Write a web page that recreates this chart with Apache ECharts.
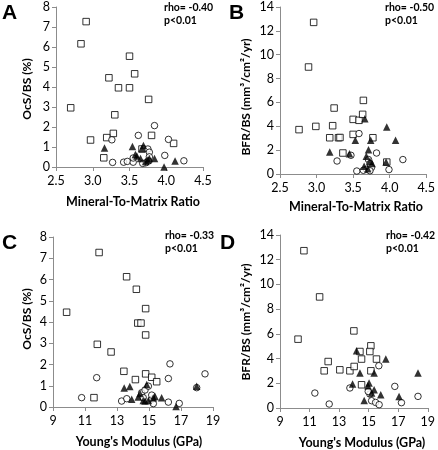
<!DOCTYPE html>
<html><head><meta charset="utf-8">
<script src="https://cdn.jsdelivr.net/npm/echarts@6/dist/echarts.min.js"></script>
<style>html,body{margin:0;padding:0;background:#fff}#c{width:438px;height:450px}</style>
</head><body><div id="c"></div>
<script>
// Panel A: Mineral-To-Matrix Ratio vs OcS/BS (%)
var aSquares = [[2.91,7.27],[2.84,6.16],[2.70,2.96],[3.50,5.54],[3.57,4.66],[3.22,4.46],[3.35,3.96],[3.50,3.96],[3.76,3.38],[3.30,2.61],[3.28,1.68],[2.97,1.35],[3.19,1.47],[3.80,1.58],[4.10,1.18],[3.15,0.46],[3.67,0.90]];
var aCircles = [[3.84,2.07],[3.62,1.58],[4.03,1.38],[3.26,1.36],[3.75,0.90],[3.77,0.74],[3.98,0.58],[4.24,0.31],[3.27,0.23],[3.42,0.24],[3.47,0.28],[3.55,0.24],[3.55,0.45],[3.77,0.51],[3.76,0.30],[3.72,0.21],[3.68,0.18]];
var aTriangles = [[3.16,0.95],[3.54,1.03],[3.69,1.07],[3.67,0.93],[3.58,0.63],[3.60,0.55],[3.65,0.43],[3.77,0.43],[3.84,0.43],[3.72,0.27],[4.12,0.30],[3.97,0.0],[3.75,0.35]];
// Panel B: Mineral-To-Matrix Ratio vs BFR/BS
var bSquares = [[2.96,12.71],[2.89,8.97],[2.76,3.72],[2.99,3.99],[3.22,4.05],[3.24,5.53],[3.18,3.04],[3.30,3.04],[3.32,3.06],[3.50,4.58],[3.58,4.50],[3.64,6.17],[3.63,5.0],[3.50,3.32],[3.77,3.04],[3.36,1.76],[3.96,1.0]];
var bCircles = [[3.58,3.39],[3.28,1.09],[3.47,1.57],[3.82,1.76],[4.18,1.21],[3.55,0.25],[3.99,0.37],[3.71,1.21],[3.73,0.87],[3.75,0.54],[3.68,0.39],[3.64,0.31],[3.73,0.27]];
var bTriangles = [[3.66,4.64],[3.96,3.94],[4.08,2.82],[3.53,2.82],[3.74,2.82],[3.18,1.84],[3.45,1.70],[3.71,2.04],[3.68,1.48],[3.73,1.06],[3.76,0.87],[3.65,0.64],[3.95,1.0],[3.70,0.45]];
// Panel C: Young's Modulus vs OcS/BS (%)
var cSquares = [[11.88,7.27],[13.6,6.13],[9.85,4.46],[14.21,5.54],[14.79,4.63],[14.3,3.95],[14.5,3.95],[14.79,3.39],[11.77,2.95],[12.63,2.59],[13.43,1.68],[14.79,1.56],[15.17,1.40],[15.48,1.19],[14.15,1.29],[11.56,0.44]];
var cCircles = [[11.73,1.38],[16.31,2.03],[16.21,1.34],[18.5,1.56],[17.98,0.91],[13.29,0.28],[13.61,0.39],[14.54,0.67],[14.75,0.80],[14.96,0.98],[15.17,0.36],[15.27,0.16],[15.17,0.56],[16.21,0.23],[16.89,0.17],[10.79,0.44],[14.64,0.44]];
var cTriangles = [[13.45,0.9],[13.8,0.97],[14.86,1.06],[17.98,0.98],[14.44,0.63],[14.33,0.47],[13.92,0.36],[14.64,0.31],[14.75,0.28],[14.96,0.31],[15.38,0.49],[15.79,0.44],[16.69,0.02],[15.27,0.44]];
// Panel D: Young's Modulus vs BFR/BS
var dSquares = [[10.62,12.73],[10.22,5.57],[11.68,8.99],[14.0,6.24],[15.15,5.03],[15.08,4.57],[14.41,4.57],[14.52,3.96],[15.53,3.96],[12.26,3.76],[11.99,3.01],[13.05,3.09],[13.73,3.01],[14.02,3.36],[15.15,3.01],[14.52,1.88]];
var dCircles = [[11.36,1.21],[12.33,0.32],[13.73,1.62],[15.69,3.42],[16.77,1.75],[18.34,0.94],[17.22,0.43],[15.08,1.13],[15.2,0.59],[15.47,0.45],[15.71,0.27],[14.97,1.34]];
var dTriangles = [[14.18,4.63],[16.16,3.96],[14.41,2.83],[15.37,2.83],[18.34,2.83],[13.91,1.94],[15.03,2.02],[14.95,1.8],[15.37,1.48],[15.82,1.07],[17.06,0.94],[14.7,0.61],[15.2,1.21]];

var panelLetters = ['A','B','C','D'];
var rhoTexts = ['rho= -0.40','rho= -0.50','rho= -0.33','rho= -0.42'];
var pText = 'p<0.01';
var xNames = ['Mineral-To-Matrix Ratio','Mineral-To-Matrix Ratio',"Young's Modulus (GPa)","Young's Modulus (GPa)"];
var yNames = ['OcS/BS (%)','BFR/BS (mm³/cm²/yr)','OcS/BS (%)','BFR/BS (mm³/cm²/yr)'];
var xRanges = [[2.5,4.5,0.5],[2.5,4.5,0.5],[9,19,2],[9,19,2]];
var yRanges = [[0,8,1],[0,14,2],[0,8,1],[0,14,2]];

var FONT = 'Lato';
var grids = [
  {left:56, top:7, width:147, height:160},
  {left:280, top:7, width:147, height:167},
  {left:53, top:237, width:160, height:170},
  {left:280, top:235, width:148, height:173}
];
var xAxes = [], yAxes = [];
for (var i=0;i<4;i++){
  var dec = i<2 ? 1 : 0;
  xAxes.push({type:'value', gridIndex:i, min:xRanges[i][0], max:xRanges[i][1], interval:xRanges[i][2],
    splitLine:{show:false}, axisLine:{onZero:false, lineStyle:{color:'#8c8c8c', width:1}},
    axisTick:{show:true, length:4, lineStyle:{color:'#8c8c8c'}},
    axisLabel:{color:'#000', fontFamily:FONT, fontSize:12.5, margin:7, formatter:(function(d){return function(v){return v.toFixed(d);};})(dec)}});
  yAxes.push({type:'value', gridIndex:i, min:yRanges[i][0], max:yRanges[i][1], interval:yRanges[i][2],
    splitLine:{show:false}, axisLine:{show:true, lineStyle:{color:'#8c8c8c', width:1}},
    axisTick:{show:true, length:4, lineStyle:{color:'#8c8c8c'}},
    axisLabel:{color:'#000', fontFamily:FONT, fontSize:12.5, margin:6}});
}
var groups = [[aSquares,aCircles,aTriangles],[bSquares,bCircles,bTriangles],[cSquares,cCircles,cTriangles],[dSquares,dCircles,dTriangles]];
var series = [];
groups.forEach(function(g,i){
  series.push({type:'scatter', xAxisIndex:i, yAxisIndex:i, data:g[0], symbol:'rect', symbolSize:6.5,
    itemStyle:{color:'#fff', borderColor:'#000', borderWidth:1}, silent:true});
  series.push({type:'scatter', xAxisIndex:i, yAxisIndex:i, data:g[1], symbol:'circle', symbolSize:6.5,
    itemStyle:{color:'#fff', borderColor:'#000', borderWidth:1}, silent:true});
  series.push({type:'scatter', xAxisIndex:i, yAxisIndex:i, data:g[2], symbol:'triangle', symbolSize:7.5,
    itemStyle:{color:'#000'}, silent:true});
});
var letterPos = [[2,3],[229,3],[2,233],[220,233]];
var rhoPos = [[164,2],[385,2],[165,230],[386,230]];
var xNamePos = [[133,202],[356,207],[139,442],[362,443]];
var yNamePos = [[27,89],[246,97],[27,319],[246,322]];
var graphic = [];
for (var k=0;k<4;k++){
  graphic.push({type:'text', left:letterPos[k][0], top:letterPos[k][1], style:{text:panelLetters[k], font:'bold 21px Arial', fill:'#000'}});
  graphic.push({type:'text', x:rhoPos[k][0], y:rhoPos[k][1], style:{text:rhoTexts[k], font:'bold 10.5px '+FONT, fill:'#000', textVerticalAlign:'top'}});
  graphic.push({type:'text', x:rhoPos[k][0], y:rhoPos[k][1]+13, style:{text:pText, font:'bold 10.5px '+FONT, fill:'#000', textVerticalAlign:'top'}});
  graphic.push({type:'text', x:xNamePos[k][0], y:xNamePos[k][1], style:{text:xNames[k], font:'bold 12.5px '+FONT, fill:'#000', textAlign:'center', textVerticalAlign:'middle'}});
  graphic.push({type:'text', x:yNamePos[k][0], y:yNamePos[k][1], rotation:Math.PI/2, style:{text:yNames[k], font:'bold 12px '+FONT, fill:'#000', textAlign:'center', textVerticalAlign:'middle'}});
}
var chart = echarts.init(document.getElementById('c'), null, {renderer:'canvas'});
chart.setOption({animation:false, backgroundColor:'#fff', grid:grids, xAxis:xAxes, yAxis:yAxes, series:series, graphic:graphic});
</script></body></html>
